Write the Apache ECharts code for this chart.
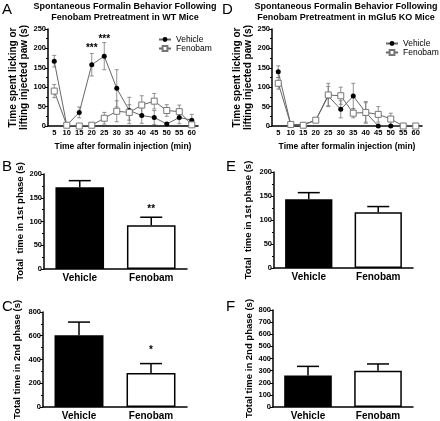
<!DOCTYPE html>
<html><head><meta charset="utf-8">
<script src="https://cdn.jsdelivr.net/npm/echarts@6/dist/echarts.min.js"></script>
<style>html,body{margin:0;padding:0;background:#fff}#c{width:440px;height:421px}</style>
</head><body><div id="c"></div>
<script>
// ---- data ----
const timeCats = ['5','10','15','20','25','30','35','40','45','50','55','60'];
const wtVehicle    = [167, 2, 35, 158, 180, 97, 40, 27, 22, 5, 22, 15];
const wtVehicleSem = [15, 2, 14, 29, 35, 48, 34, 20, 18, 4, 16, 15];
const wtFenobam    = [90, 2, 0, 2, 20, 38, 35, 54, 64, 40, 37, 3];
const wtFenobamSem = [17, 2, 1, 2, 15, 27, 20, 24, 20, 15, 17, 3];
const koVehicle    = [140, 4, 4, 15, 77, 43, 77, 35, 0, 0, 0, 0];
const koVehicleSem = [15, 2, 2, 5, 25, 22, 33, 25, 0, 0, 0, 0];
const koFenobam    = [110, 4, 2, 15, 80, 78, 33, 35, 30, 18, 0, 0];
const koFenobamSem = [15, 2, 2, 5, 30, 22, 12, 28, 20, 15, 0, 0];
const groups = ['Vehicle', 'Fenobam'];
const wtPhase1 = [172, 92],  wtPhase1Sem = [14, 17];
const wtPhase2 = [603, 285], wtPhase2Sem = [112, 80];
const koPhase1 = [143, 116], koPhase1Sem = [14, 12];
const koPhase2 = [260, 300], koPhase2Sem = [75, 55];
const starsA = [[3, 201, '***'], [4, 224, '***']];
const starsB = [[1, 126, '**']];
const starsC = [[1, 475, '*']];

// ---- chart ----
const FONT = 'Liberation Sans, Arial, sans-serif';
const chart = echarts.init(document.getElementById('c'));

const axisLine = {lineStyle: {color: '#000', width: 1.5}};
const axisTick = {length: 3, lineStyle: {color: '#000', width: 1}};
const tickLabel = {fontSize: 7.5, fontWeight: 'bold', color: '#000', fontFamily: FONT, margin: 2};

function lineX(grid) {
  return {type: 'category', gridIndex: grid, data: timeCats, boundaryGap: true,
    axisLine, axisTick: Object.assign({alignWithLabel: true}, axisTick),
    axisLabel: Object.assign({}, tickLabel, {interval: 0, margin: 3}),
    name: 'Time after formalin injection (min)', nameLocation: 'middle', nameGap: 16,
    nameTextStyle: {fontSize: 8.5, fontWeight: 'bold', color: '#000', fontFamily: FONT}};
}
function lineY(grid, gap) {
  return {type: 'value', gridIndex: grid, min: 0, max: 250, interval: 50,
    axisLine: Object.assign({show: true}, axisLine), axisTick: Object.assign({show: true}, axisTick),
    minorTick: {show: true, splitNumber: 2, length: 2, lineStyle: {color: '#000'}},
    splitLine: {show: false}, axisLabel: tickLabel,
    name: 'Time spent licking or\nlifting injected paw (s)', nameLocation: 'middle', nameGap: gap, nameRotate: 90,
    nameTextStyle: {fontSize: 10, fontWeight: 'bold', color: '#000', fontFamily: FONT, lineHeight: 11}};
}
function barX(grid) {
  return {type: 'category', gridIndex: grid, data: groups, axisLine, axisTick: {show: false},
    axisLabel: {fontSize: 10, fontWeight: 'bold', color: '#000', fontFamily: FONT, margin: 4}};
}
function barY(grid, max, interval, minor, name, gap) {
  return {type: 'value', gridIndex: grid, min: 0, max, interval,
    axisLine: Object.assign({show: true}, axisLine), axisTick: Object.assign({show: true}, axisTick),
    minorTick: {show: minor, splitNumber: 2, length: 2, lineStyle: {color: '#000'}},
    splitLine: {show: false}, axisLabel: tickLabel,
    name, nameLocation: 'middle', nameGap: gap, nameRotate: 90,
    nameTextStyle: {fontSize: 9.5, fontWeight: 'bold', color: '#000', fontFamily: FONT}};
}

function errLineSeries(grid, mean, sem) {
  return {type: 'custom', xAxisIndex: grid, yAxisIndex: grid, z: 1, silent: true,
    data: mean.map((m, i) => [i, m, sem[i]]),
    renderItem(params, api) {
      const x = api.value(0), m = api.value(1), s = api.value(2);
      if (!s) return null;
      const t = api.coord([x, m + s]), b = api.coord([x, Math.max(0, m - s)]);
      const cap = 2, st = {stroke: '#777', lineWidth: 0.8};
      return {type: 'group', children: [
        {type: 'line', shape: {x1: t[0], y1: t[1], x2: b[0], y2: b[1]}, style: st},
        {type: 'line', shape: {x1: t[0] - cap, y1: t[1], x2: t[0] + cap, y2: t[1]}, style: st},
        {type: 'line', shape: {x1: b[0] - cap, y1: b[1], x2: b[0] + cap, y2: b[1]}, style: st}]};
    }};
}
function lineSeries(grid, name, data) {
  const veh = name === 'Vehicle';
  return {type: 'line', name, xAxisIndex: grid, yAxisIndex: grid, data, z: 3,
    symbol: veh ? 'circle' : 'rect', symbolSize: veh ? 5 : 6,
    lineStyle: {color: '#666', width: 1},
    itemStyle: veh ? {color: '#000', borderColor: '#000', borderWidth: 0}
                   : {color: '#fff', borderColor: '#777', borderWidth: 1},
    animation: false};
}
function barSeries(grid, mean) {
  return {type: 'bar', xAxisIndex: grid, yAxisIndex: grid, barWidth: '68%', z: 2,
    data: mean.map((v, i) => ({value: v, itemStyle: {color: i === 0 ? '#000' : '#fff', borderColor: '#000', borderWidth: 1.5}}))};
}
function errBarSeries(grid, mean, sem) {
  return {type: 'custom', xAxisIndex: grid, yAxisIndex: grid, z: 3, silent: true,
    data: mean.map((m, i) => [i, m, sem[i]]),
    renderItem(params, api) {
      const x = api.value(0), m = api.value(1), s = api.value(2);
      const t = api.coord([x, m + s]), b = api.coord([x, m]);
      const cap = 11, st = {stroke: '#000', lineWidth: 1.5};
      return {type: 'group', children: [
        {type: 'line', shape: {x1: t[0], y1: t[1], x2: b[0], y2: b[1]}, style: st},
        {type: 'line', shape: {x1: t[0] - cap, y1: t[1], x2: t[0] + cap, y2: t[1]}, style: st}]};
    }};
}
function starSeries(grid, stars) {
  return {type: 'custom', xAxisIndex: grid, yAxisIndex: grid, z: 4, silent: true,
    data: stars.map(s => [s[0], s[1]]),
    renderItem(params, api) {
      const p = api.coord([api.value(0), api.value(1)]);
      return {type: 'text', x: p[0], y: p[1], style: {text: stars[params.dataIndex][2],
        font: 'bold 10px ' + FONT, fill: '#000', align: 'center', verticalAlign: 'middle'}};
    }};
}
function txt(x, y, text, font, align) {
  return {type: 'text', x, y, style: {text, font, fill: '#000', textAlign: align || 'left', textVerticalAlign: 'top'}};
}

const legendCommon = {orient: 'vertical', itemWidth: 12, itemHeight: 6, itemGap: 0,
  textStyle: {fontSize: 8.5, color: '#000', fontFamily: FONT}, data: ['Vehicle', 'Fenobam'], selectedMode: false};

chart.setOption({
  animation: false,
  textStyle: {fontFamily: FONT},
  grid: [
    {left: 48, top: 29, width: 150, height: 97},
    {left: 272, top: 29, width: 150, height: 97},
    {left: 44, top: 174, width: 143, height: 95},
    {left: 274, top: 172, width: 139, height: 96},
    {left: 43, top: 312, width: 144, height: 96},
    {left: 273, top: 310, width: 140, height: 98}
  ],
  legend: [
    Object.assign({left: 153, top: 30}, legendCommon),
    Object.assign({left: 380, top: 34}, legendCommon)
  ],
  xAxis: [lineX(0), lineX(1), barX(2), barX(3), barX(4), barX(5)],
  yAxis: [lineY(0, 16), lineY(1, 16),
    barY(2, 200, 50, true, 'Total  time in 1st phase (s)', 17),
    barY(3, 200, 50, true, 'Total  time in 1st phase (s)', 21),
    barY(4, 800, 200, true, 'Total time in 2nd phase (s)', 21),
    barY(5, 800, 100, false, 'Total time in 2nd phase (s)', 17)],
  series: [
    errLineSeries(0, wtFenobam, wtFenobamSem), errLineSeries(0, wtVehicle, wtVehicleSem),
    lineSeries(0, 'Vehicle', wtVehicle), lineSeries(0, 'Fenobam', wtFenobam),
    starSeries(0, starsA),
    errLineSeries(1, koFenobam, koFenobamSem), errLineSeries(1, koVehicle, koVehicleSem),
    lineSeries(1, 'Vehicle', koVehicle), lineSeries(1, 'Fenobam', koFenobam),
    barSeries(2, wtPhase1), errBarSeries(2, wtPhase1, wtPhase1Sem), starSeries(2, starsB),
    barSeries(3, koPhase1), errBarSeries(3, koPhase1, koPhase1Sem),
    barSeries(4, wtPhase2), errBarSeries(4, wtPhase2, wtPhase2Sem), starSeries(4, starsC),
    barSeries(5, koPhase2), errBarSeries(5, koPhase2, koPhase2Sem)
  ],
  graphic: [
    txt(2, 2, 'A', '15px ' + FONT), txt(222, 2, 'D', '15px ' + FONT),
    txt(2, 159, 'B', '15px ' + FONT), txt(226, 159, 'E', '15px ' + FONT),
    txt(2, 299, 'C', '15px ' + FONT), txt(226, 299, 'F', '15px ' + FONT),
    txt(125, 2, 'Spontaneous Formalin Behavior Following', 'bold 9px ' + FONT, 'center'),
    txt(125, 13, 'Fenobam Pretreatment in WT Mice', 'bold 9px ' + FONT, 'center'),
    txt(346, 2, 'Spontaneous Formalin Behavior Following', 'bold 9px ' + FONT, 'center'),
    txt(346, 13, 'Fenobam Pretreatment in mGlu5 KO Mice', 'bold 9px ' + FONT, 'center')
  ]
});
</script></body></html>
